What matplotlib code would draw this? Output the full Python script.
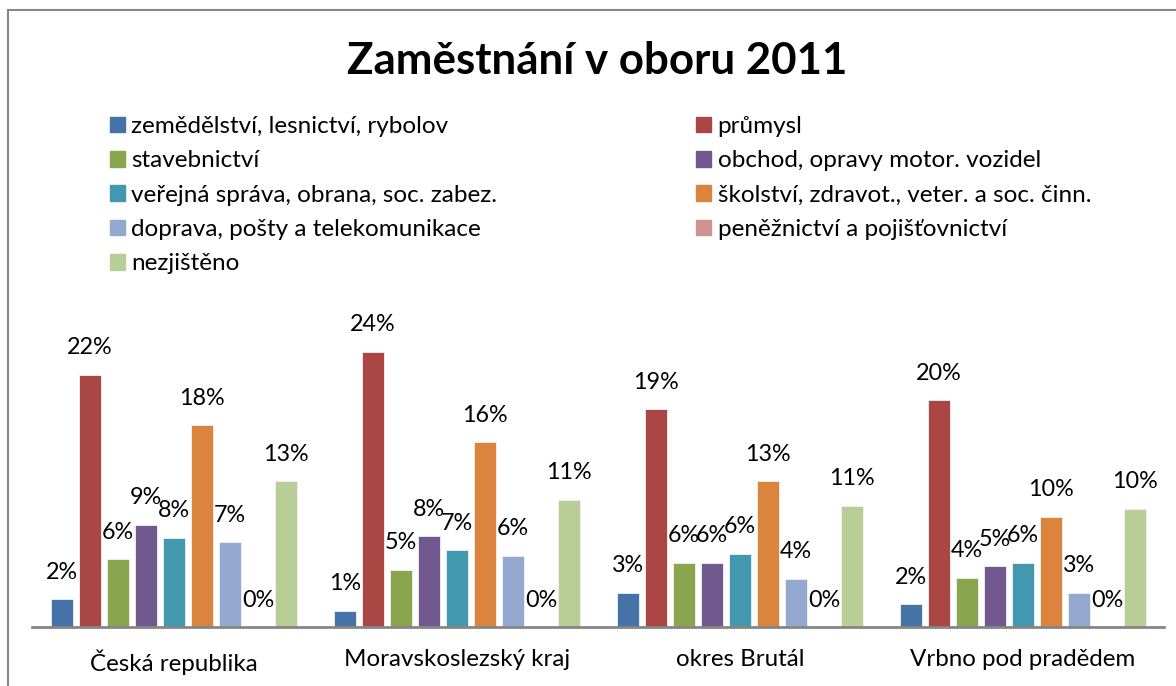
import numpy as np
import matplotlib.pyplot as plt
from matplotlib.lines import Line2D

plt.rcParams['font.family'] = ['Lato', 'DejaVu Sans']

categories = ['Česká republika', 'Moravskoslezský kraj', 'okres Brutál', 'Vrbno pod pradědem']

series_names = [
    'zemědělství, lesnictví, rybolov',
    'průmysl',
    'stavebnictví',
    'obchod, opravy motor. vozidel',
    'veřejná správa, obrana, soc. zabez.',
    'školství, zdravot., veter. a soc. činn.',
    'doprava, pošty a telekomunikace',
    'peněžnictví a pojišťovnictví',
    'nezjištěno',
]

# hodnoty v %
zemedelstvi = [2.4, 1.4, 3.0, 2.0]
prumysl = [22.0, 24.0, 19.0, 19.8]
stavebnictvi = [5.9, 5.0, 5.6, 4.3]
obchod = [8.9, 7.9, 5.6, 5.3]
verejna_sprava = [7.8, 6.7, 6.4, 5.6]
skolstvi = [17.6, 16.1, 12.7, 9.6]
doprava = [7.4, 6.2, 4.2, 3.0]
penezni = [0.0, 0.0, 0.0, 0.0]
nezjisteno = [12.7, 11.1, 10.6, 10.3]

values = [zemedelstvi, prumysl, stavebnictvi, obchod, verejna_sprava,
          skolstvi, doprava, penezni, nezjisteno]

colors = ['#4572A7', '#AA4643', '#89A54E', '#71588F', '#4198AF',
          '#DB843D', '#93A9CF', '#D19392', '#B9CD96']

fig = plt.figure(figsize=(11.76, 6.86), dpi=100)
ax = fig.add_axes([0.0276, 0.086, 0.9626, 0.4767])

x = np.arange(len(categories))
pitch = 0.099
width = 0.08
for i, (vals, col) in enumerate(zip(values, colors)):
    pos = x + (i - 4) * pitch
    bars = ax.bar(pos, vals, width, color=col, edgecolor='#f2f2f2', linewidth=0.6)
    for b, v in zip(bars, vals):
        ax.annotate(f'{round(v):.0f}%', (b.get_x() + b.get_width() / 2, v),
                    xytext=(0, 27), textcoords='offset pixels',
                    ha='center', va='center', fontsize=16.8, color='black')

ax.set_xlim(-0.5, 3.5)
ax.set_ylim(0, 28.53)
ax.set_yticks([])
ax.set_xticks(x)
ax.set_xticklabels(categories, fontsize=17.4)
ax.tick_params(axis='x', length=0, pad=16)
for s in ['top', 'right', 'left']:
    ax.spines[s].set_visible(False)
ax.spines['bottom'].set_color('#868686')
ax.spines['bottom'].set_linewidth(2)

fig.suptitle('Zaměstnání v oboru 2011', fontsize=31.6, fontweight='bold', y=0.94, x=0.508)

handles = [plt.Rectangle((0, 0), 1, 1, color=c) for c in colors]
order = [0, 2, 4, 6, 8, 1, 3, 5, 7]
fig.legend([handles[i] for i in order], [series_names[i] for i in order],
           ncol=2, loc='upper left', bbox_to_anchor=(0.0935, 0.831),
           frameon=False, fontsize=17.5, handlelength=0.62, handleheight=0.62,
           handletextpad=0.25, labelspacing=0.55, columnspacing=8.2,
           borderaxespad=0, borderpad=0)

# ramecek grafu
fig.add_artist(Line2D([8 / 1176, 8 / 1176], [0, 1 - 10 / 686], transform=fig.transFigure,
                      color='#868686', linewidth=1.5))
fig.add_artist(Line2D([8 / 1176, 1], [1 - 10 / 686, 1 - 10 / 686], transform=fig.transFigure,
                      color='#868686', linewidth=1.5))

fig.savefig('out.png', dpi=100)
